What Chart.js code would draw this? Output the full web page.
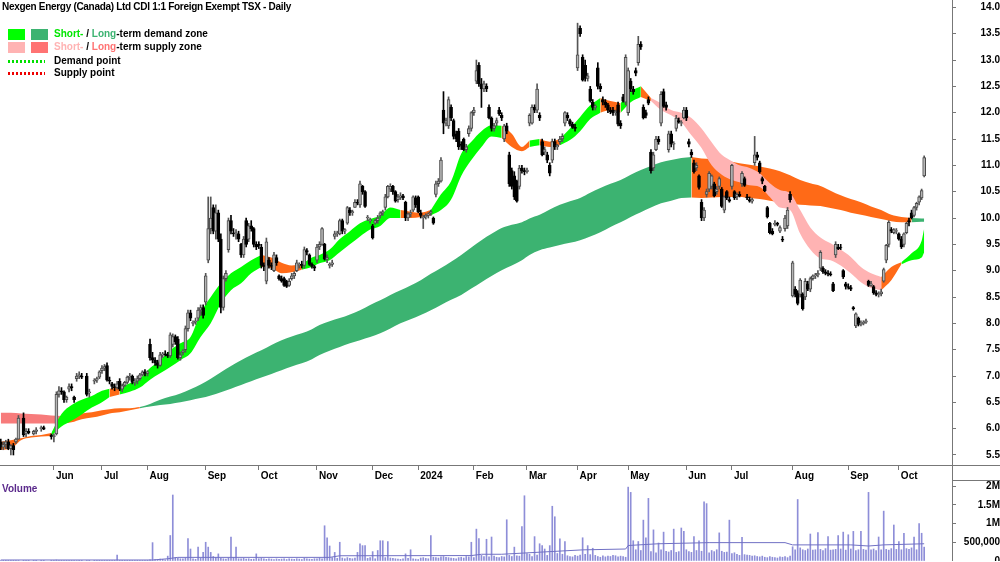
<!DOCTYPE html>
<html>
<head>
<meta charset="utf-8">
<script src="https://cdn.jsdelivr.net/npm/chart.js@4.4.1/dist/chart.umd.min.js"></script>
<style>
  body { margin: 0; background: #fff; }
  #wrap { position: relative; width: 1000px; height: 562px; overflow: hidden; font-family: Arial, "Liberation Sans", sans-serif; }
  #price { position: absolute; left: 0; top: 0; }
  #vol { position: absolute; left: 0; top: 480px; }
  .title { position: absolute; left: 2px; top: 1px; font-size: 10px; font-weight: bold; color: #000; white-space: nowrap; letter-spacing: -0.3px; }
  .row { position: absolute; left: 0; height: 12px; font-size: 10px; font-weight: bold; color: #000; white-space: nowrap; }
  .box { position: absolute; top: 0; width: 17px; height: 11px; }
  .txt { position: absolute; left: 54px; top: -1px; line-height: 12px; }
  .dots { position: absolute; left: 8px; top: 4px; width: 37px; height: 3px; }
  .vlabel { position: absolute; left: 2px; top: 483px; font-size: 10px; font-weight: bold; color: #5b2a8c; }
  .sep { position: absolute; background: #777; }
</style>
</head>
<body>
<div id="wrap">
  <canvas id="price" width="1000" height="482"></canvas>
  <canvas id="vol" width="1000" height="81"></canvas>
  <div class="title">Nexgen Energy (Canada) Ltd CDI 1:1 Foreign Exempt TSX - Daily</div>
  <div class="row" style="top:29px">
    <div class="box" style="left:8px;background:#00ff00"></div>
    <div class="box" style="left:31px;background:#3cb371"></div>
    <div class="txt"><span style="color:#00e600">Short-</span> / <span style="color:#3cb371">Long</span>-term demand zone</div>
  </div>
  <div class="row" style="top:42px">
    <div class="box" style="left:8px;background:#ffb3b3"></div>
    <div class="box" style="left:31px;background:#ff7373"></div>
    <div class="txt"><span style="color:#ffb3b3">Short-</span> / <span style="color:#ff7373">Long</span>-term supply zone</div>
  </div>
  <div class="row" style="top:56px">
    <div class="dots" style="background:repeating-linear-gradient(90deg,#00e000 0 2px,transparent 2px 4px)"></div>
    <div class="txt">Demand point</div>
  </div>
  <div class="row" style="top:68px">
    <div class="dots" style="background:repeating-linear-gradient(90deg,#ee0000 0 2px,transparent 2px 4px)"></div>
    <div class="txt">Supply point</div>
  </div>
  <div class="vlabel">Volume</div>
  <div class="sep" style="left:952px;top:465px;width:1px;height:16px"></div>
  <div class="sep" style="left:952px;top:465px;width:48px;height:1px"></div>
  <div class="sep" style="left:952px;top:480px;width:48px;height:1px"></div>
</div>
<script>
// daily candles, one slot per trading day (null = no trade that day)
var opens = [
  5.75,5.65,5.70,5.75,5.62,5.68,5.75,5.80,null,6.20,
  5.90,5.95,null,5.90,5.95,null,6.00,6.02,null,null,
  5.88,5.85,5.90,6.65,6.72,6.70,6.55,6.75,6.80,6.60,
  6.95,7.00,7.00,null,7.00,6.68,null,6.90,6.92,6.98,
  7.10,7.15,7.20,6.92,6.85,6.80,6.78,6.90,6.75,6.82,
  6.88,6.98,7.00,6.88,6.90,6.95,7.02,7.08,7.05,7.60,
  7.35,7.30,7.25,7.20,7.40,7.42,7.40,7.38,7.60,7.75,
  7.70,7.35,7.45,7.50,7.90,8.20,8.00,8.02,8.10,8.25,
  8.30,8.40,9.20,9.80,10.20,9.75,10.10,9.60,8.30,8.85,
  9.40,9.95,9.72,9.70,9.70,9.50,9.30,9.95,9.60,9.85,
  9.80,9.50,9.50,9.45,9.10,8.80,9.20,9.10,9.00,9.25,
  8.90,8.85,8.85,8.80,8.72,8.85,8.90,9.00,9.10,9.12,
  9.10,9.38,9.30,9.12,9.08,9.20,9.45,9.50,9.50,9.22,
  9.10,9.12,9.65,9.70,9.70,9.95,9.75,9.90,10.15,10.10,
  10.20,10.30,10.25,10.60,10.50,10.00,9.95,9.85,9.90,9.95,
  10.05,10.10,10.20,10.40,10.55,10.60,10.50,10.35,10.40,10.42,
  10.30,10.00,10.08,10.15,10.38,10.40,10.10,10.00,10.02,10.05,
  10.10,10.00,10.45,10.65,10.70,12.05,11.80,11.75,12.10,11.85,
  11.60,11.65,11.40,11.50,11.30,11.60,11.70,12.00,12.60,12.90,
  12.55,12.45,12.50,12.10,11.90,11.70,11.80,12.05,11.95,11.50,
  11.75,11.20,10.90,10.80,10.70,10.60,10.95,10.90,10.88,11.80,
  11.80,12.10,12.05,11.95,11.45,11.25,11.20,11.00,11.10,11.45,
  11.35,11.45,11.50,11.80,11.95,11.85,11.78,11.72,12.85,13.60,
  13.05,12.90,12.65,12.45,12.20,12.10,12.85,12.50,12.25,12.20,
  12.15,12.05,12.05,12.00,12.15,11.80,12.30,12.20,12.00,12.60,
  12.45,12.80,12.95,13.30,12.10,12.00,12.25,11.25,10.95,11.30,
  11.50,11.80,12.40,12.15,11.30,11.60,11.40,11.70,11.85,11.80,
  11.90,12.05,11.45,11.25,11.05,10.95,10.80,10.30,10.00,10.45,
  10.55,10.60,10.65,10.50,10.60,10.55,10.15,10.50,10.35,10.60,
  10.50,10.40,10.45,10.65,10.75,10.40,10.35,10.32,11.05,11.20,
  11.05,10.75,10.60,10.20,9.90,9.75,9.88,9.90,9.75,9.60,
  9.80,9.85,10.45,8.52,8.65,8.58,8.55,8.55,8.50,8.75,
  8.65,8.85,8.90,8.92,9.05,9.05,8.98,8.95,8.94,8.75,
  9.30,9.45,9.45,9.00,8.75,8.70,8.68,8.30,7.95,8.10,
  7.98,8.00,8.02,8.80,8.72,8.70,8.58,8.55,8.56,8.80,
  9.20,9.50,9.78,9.72,9.75,9.70,9.60,9.50,9.72,9.95,
  10.10,10.05,10.20,10.30,10.38,10.80
];
var highs = [
  5.80,5.75,5.78,5.80,5.70,5.72,5.82,6.25,null,6.30,
  6.00,6.00,null,5.97,6.02,null,6.05,6.05,null,null,
  5.90,5.90,6.70,6.80,6.78,6.72,6.62,6.85,6.85,6.62,
  7.05,7.08,7.05,null,7.05,6.75,null,6.95,6.98,7.10,
  7.20,7.22,7.25,6.98,6.88,6.85,6.90,6.95,6.85,6.90,
  7.00,7.05,7.02,6.95,7.00,7.05,7.10,7.12,7.10,7.70,
  7.45,7.35,7.30,7.45,7.45,7.48,7.45,7.82,7.80,7.78,
  7.75,7.45,7.50,7.95,8.25,8.25,8.05,8.10,8.30,8.35,
  8.35,8.95,10.40,10.40,10.25,10.25,10.15,9.70,8.90,9.00,
  10.00,10.05,9.80,9.78,9.75,9.52,9.65,10.00,9.90,9.95,
  9.82,9.55,9.55,9.50,9.15,9.62,9.25,9.15,9.35,9.30,
  8.92,8.90,8.88,8.82,8.85,8.95,8.98,9.20,9.15,9.18,
  9.45,9.42,9.32,9.15,9.10,9.50,9.55,9.82,9.52,9.30,
  9.15,9.20,9.75,9.75,9.98,9.98,9.80,10.22,10.20,10.15,
  10.35,10.35,10.70,10.62,10.52,10.05,10.00,9.88,9.98,10.05,
  10.12,10.15,10.45,10.62,10.65,10.62,10.52,10.45,10.48,10.45,
  10.32,10.10,10.15,10.42,10.42,10.42,10.15,10.05,10.08,10.10,
  10.15,10.02,10.70,10.75,11.15,12.40,11.90,12.30,12.15,11.88,
  11.65,11.70,11.45,11.52,11.40,11.75,12.02,12.10,13.00,12.95,
  12.65,12.60,12.55,12.15,11.92,11.80,11.90,12.10,12.00,11.78,
  11.80,11.25,10.95,10.88,10.72,11.00,11.00,10.95,10.95,11.98,
  12.15,12.15,12.55,12.00,11.50,11.35,11.25,11.05,11.50,11.50,
  11.40,11.55,11.60,12.02,12.00,11.88,11.82,11.78,13.70,13.65,
  13.10,13.00,12.75,12.50,12.25,12.15,12.95,12.55,12.30,12.25,
  12.18,12.10,12.10,12.05,12.20,11.85,12.35,13.10,12.85,12.65,
  12.50,12.85,13.45,13.35,12.15,12.05,12.30,11.30,11.25,11.55,
  11.55,12.40,12.45,12.20,11.65,11.65,11.45,11.95,11.90,11.85,
  12.10,12.10,11.50,11.30,11.10,11.05,10.82,10.35,10.20,10.55,
  10.88,10.82,10.68,10.60,10.78,10.58,10.42,10.52,10.40,11.02,
  10.52,10.48,10.50,10.88,10.78,10.45,10.40,10.38,11.55,11.25,
  11.08,10.78,10.62,10.22,9.92,9.80,9.95,9.92,9.85,9.65,
  10.05,10.20,10.50,9.18,8.70,8.62,8.85,8.58,8.85,8.80,
  8.88,8.92,8.95,9.00,9.38,9.08,9.02,9.00,8.98,8.78,
  9.55,9.50,9.50,9.02,8.78,8.75,8.72,8.32,8.20,8.12,
  8.05,8.05,8.08,8.82,8.80,8.72,8.62,8.60,8.65,9.05,
  9.50,9.95,9.82,9.80,9.80,9.72,9.65,9.72,9.92,10.00,
  10.15,10.22,10.30,10.42,10.55,11.18
];
var lows = [
  5.60,5.60,5.62,5.60,5.50,5.50,5.72,5.80,null,5.85,
  5.85,5.90,null,5.88,5.90,null,5.95,5.98,null,null,
  5.80,5.75,5.88,6.60,6.65,6.50,6.50,6.70,6.72,6.50,
  6.90,6.95,6.95,null,6.62,6.60,null,6.85,6.88,6.95,
  7.05,7.10,6.90,6.85,6.75,6.72,6.75,6.72,6.70,6.80,
  6.85,6.92,6.85,6.82,6.85,6.92,7.00,7.00,7.00,7.30,
  7.25,7.20,7.15,7.18,7.35,7.38,7.35,7.35,7.55,7.60,
  7.32,7.30,7.40,7.45,7.85,8.05,7.95,7.98,8.05,8.15,
  8.10,8.35,9.15,9.70,9.70,9.60,9.55,8.20,8.25,8.80,
  9.35,9.70,9.65,9.60,9.55,9.25,9.25,9.45,9.55,9.75,
  9.45,9.40,9.42,9.05,9.00,8.75,9.05,9.02,8.98,9.10,
  8.82,8.78,8.70,8.68,8.70,8.82,8.85,8.98,9.05,9.05,
  9.05,9.30,9.10,9.05,9.00,9.15,9.40,9.48,9.20,9.15,
  9.05,9.08,9.60,9.65,9.68,9.70,9.70,9.88,10.05,10.05,
  10.20,10.25,10.20,10.45,10.20,9.95,9.90,9.60,9.88,9.90,
  10.00,10.05,10.15,10.38,10.50,10.45,10.30,10.30,10.35,10.35,
  9.95,9.95,10.02,10.12,10.20,10.10,10.00,9.80,9.98,10.00,
  10.05,9.88,10.40,10.60,10.68,11.60,11.75,11.70,11.85,11.50,
  11.45,11.30,11.30,11.28,11.25,11.55,11.65,11.95,12.55,12.50,
  12.10,12.40,12.40,11.88,11.65,11.65,11.75,11.95,11.85,11.45,
  11.60,10.60,10.55,10.35,10.30,10.55,10.85,10.82,10.85,11.75,
  11.78,12.00,12.00,11.85,11.18,11.20,11.05,10.80,11.05,11.30,
  11.30,11.40,11.45,11.75,11.85,11.75,11.70,11.65,12.80,13.45,
  12.60,12.60,12.60,12.20,12.05,12.05,12.45,12.40,12.15,12.10,
  12.00,11.98,11.95,11.95,11.75,11.70,12.20,12.15,11.95,12.40,
  12.35,12.70,12.90,13.20,11.88,11.90,12.15,10.85,10.90,11.28,
  11.40,11.75,12.10,12.05,11.25,11.35,11.30,11.65,11.80,11.75,
  11.88,11.85,11.35,11.15,10.85,10.90,10.55,9.95,9.95,10.40,
  10.50,10.55,10.40,10.45,10.55,10.20,10.10,10.35,10.30,10.55,
  10.35,10.35,10.40,10.60,10.60,10.35,10.30,10.28,11.00,11.10,
  10.85,10.65,10.50,10.00,9.70,9.68,9.85,9.85,9.72,9.55,
  9.75,9.80,10.30,8.50,8.50,8.35,8.50,8.25,8.45,8.62,
  8.60,8.82,8.85,8.88,9.00,8.95,8.92,8.90,8.90,8.60,
  9.25,9.40,9.40,8.85,8.65,8.65,8.62,8.25,7.92,7.95,
  7.95,7.97,8.00,8.70,8.70,8.55,8.52,8.50,8.52,8.78,
  9.15,9.45,9.72,9.70,9.70,9.58,9.42,9.45,9.70,9.85,
  9.98,10.02,10.15,10.25,10.35,10.78
];
var closes = [
  5.65,5.70,5.75,5.62,5.68,5.60,5.80,6.20,null,5.88,
  5.95,5.92,null,5.95,5.98,null,6.02,5.99,null,null,
  5.85,5.87,6.65,6.72,6.70,6.55,6.60,6.80,6.78,6.55,
  7.00,7.02,6.98,null,6.65,6.70,null,6.92,6.95,7.08,
  7.15,7.18,6.92,6.90,6.80,6.78,6.85,6.75,6.82,6.88,
  6.98,7.00,6.88,6.90,6.95,7.02,7.08,7.05,7.08,7.35,
  7.30,7.25,7.20,7.40,7.42,7.40,7.38,7.78,7.75,7.65,
  7.35,7.40,7.47,7.90,8.20,8.10,8.02,8.05,8.25,8.30,
  8.15,8.90,9.80,10.00,9.75,10.10,9.60,8.30,8.85,8.95,
  9.95,9.75,9.70,9.72,9.60,9.30,9.60,9.50,9.85,9.80,
  9.50,9.45,9.48,9.10,9.08,9.55,9.10,9.08,9.30,9.15,
  8.85,8.80,8.72,8.70,8.80,8.90,8.95,9.15,9.12,9.10,
  9.40,9.35,9.12,9.08,9.05,9.45,9.50,9.80,9.22,9.25,
  9.12,9.15,9.70,9.72,9.95,9.75,9.78,10.20,10.10,10.12,
  10.30,10.28,10.65,10.50,10.22,10.02,9.97,9.62,9.95,10.00,
  10.10,10.12,10.40,10.60,10.60,10.50,10.32,10.40,10.42,10.38,
  10.00,10.08,10.10,10.40,10.25,10.12,10.05,10.02,10.05,10.08,
  10.12,9.90,10.65,10.70,11.10,11.80,11.85,12.25,11.90,11.55,
  11.50,11.35,11.38,11.30,11.35,11.70,12.00,12.05,12.80,12.55,
  12.45,12.55,12.45,11.90,11.70,11.75,11.85,11.98,11.90,11.75,
  11.65,10.65,10.60,10.40,10.32,10.95,10.90,10.88,10.91,11.95,
  12.10,12.05,12.45,11.90,11.20,11.30,11.10,10.85,11.45,11.35,
  11.38,11.50,11.55,12.00,11.90,11.78,11.72,11.70,13.10,13.50,
  12.62,12.65,12.70,12.22,12.10,12.12,12.50,12.45,12.20,12.15,
  12.05,12.02,12.00,12.02,11.78,11.75,12.22,13.05,12.80,12.45,
  12.40,12.75,13.30,13.25,11.90,11.95,12.18,10.90,11.20,11.50,
  11.45,12.35,12.12,12.10,11.60,11.40,11.42,11.90,11.82,11.81,
  12.05,11.90,11.40,11.20,10.88,11.00,10.58,10.00,10.15,10.50,
  10.85,10.80,10.42,10.55,10.75,10.22,10.40,10.38,10.32,11.00,
  10.38,10.45,10.42,10.85,10.62,10.38,10.32,10.35,11.20,11.15,
  10.88,10.70,10.52,10.02,9.72,9.70,9.90,9.88,9.82,9.58,
  10.00,10.15,10.35,9.15,8.55,8.38,8.82,8.28,8.80,8.65,
  8.85,8.90,8.92,8.95,9.35,8.98,8.95,8.94,8.92,8.62,
  9.50,9.42,9.44,8.88,8.70,8.68,8.65,8.28,8.18,7.98,
  8.00,8.02,8.05,8.72,8.75,8.58,8.55,8.56,8.60,9.02,
  9.48,9.92,9.75,9.78,9.76,9.60,9.45,9.70,9.90,9.92,
  10.00,10.20,10.28,10.40,10.52,11.15
];
// volume, thousands of shares
var volumes = [
  8,5,6,10,4,7,6,12,null,9,
  5,6,null,4,5,null,6,5,null,null,
  7,9,25,12,8,6,5,10,7,6,
  14,8,6,null,12,7,null,5,6,9,
  8,10,12,7,6,8,160,9,7,6,
  10,8,7,9,6,8,10,12,9,30,
  490,40,35,50,45,30,130,680,1760,90,
  70,60,55,80,600,320,60,45,370,80,
  230,500,370,230,120,90,190,70,60,50,
  80,640,90,370,60,55,70,50,60,45,
  50,190,60,70,55,45,60,50,40,55,
  45,50,60,40,55,50,45,60,50,40,
  70,60,50,45,60,55,80,60,940,620,
  400,90,230,70,500,80,60,90,70,60,
  80,230,460,410,410,70,90,250,60,280,
  540,540,90,520,80,70,60,50,45,60,
  190,70,300,60,50,40,80,90,70,60,
  680,100,90,80,110,120,100,90,80,70,
  60,90,100,80,120,110,500,90,850,600,
  150,120,580,110,640,130,100,90,120,110,
  1100,150,120,370,140,130,920,1740,200,180,
  120,650,160,460,410,320,150,410,1460,1180,
  200,590,180,520,140,120,110,150,130,160,
  620,180,410,170,340,150,120,100,140,110,
  130,120,150,140,110,130,120,100,1970,1830,
  540,300,520,280,1090,620,1670,250,830,220,
  480,300,770,260,240,280,850,230,250,880,
  790,300,250,230,650,280,540,260,1580,1530,
  220,280,250,300,750,260,230,240,1090,200,
  220,180,150,630,170,160,150,130,140,120,
  110,130,100,90,120,100,90,80,110,100,
  120,90,130,380,300,1640,350,300,280,320,
  720,290,300,760,310,280,330,650,290,300,
  310,680,320,770,290,700,320,790,280,300,
  790,310,290,1830,300,320,280,640,300,1330,
  310,290,330,960,310,520,300,740,330,310,
  350,640,300,1000,740,370
];
// volume moving average (thousands), read at these candle slots
var volMaIdx = [0,60,66,70,130,134,186,190,198,217,230,247,248,260,280,310,313,336,343,349,365];
var volMa    = [27,27,60,97,97,140,145,180,180,250,297,320,413,460,490,490,430,430,400,430,460];

// zone band edges, read at these candle slots
var bandIdx = [0,4,8,12,16,20,24,28,32,36,40,43,47,51,55,59,63,67,71,75,
  79,83,87,91,95,99,103,107,111,115,119,123,126,130,134,138,142,146,150,154,
  158,162,166,170,174,178,182,186,190,194,198,202,206,209,213,217,221,225,229,233,
  237,241,245,249,253,257,261,265,269,273,277,281,285,289,292,296,300,304,308,312,
  316,320,324,328,332,336,340,344,348,352,356,360,364,365];
var shortTop = [5.75,5.78,5.82,5.86,5.88,5.92,6.28,6.45,6.55,6.62,
  6.72,6.76,6.78,6.86,6.95,7.15,7.30,7.49,7.62,7.74,
  8.20,8.50,8.76,8.95,9.07,9.20,9.30,9.25,9.15,9.10,
  9.12,9.25,9.30,9.40,9.60,9.75,9.90,9.98,10.05,10.20,
  10.15,10.12,10.10,10.15,10.45,10.70,11.22,11.45,11.65,11.76,
  11.75,11.60,11.35,11.47,11.50,11.45,11.50,11.70,11.92,12.14,
  12.28,12.22,12.18,12.40,12.50,12.28,12.18,12.05,12.00,11.90,
  11.70,11.44,11.20,11.08,11.00,10.95,10.85,10.66,10.53,10.47,
  10.15,9.82,9.63,9.52,9.40,9.26,9.07,8.95,8.88,9.07,
  9.16,9.33,9.57,9.80];
var shortBot = [5.60,5.62,5.78,5.83,5.85,5.86,6.04,6.15,6.27,6.40,
  6.50,6.60,6.65,6.70,6.78,6.93,7.05,7.17,7.30,7.43,
  7.74,8.00,8.38,8.63,8.76,8.95,9.07,9.05,8.95,8.97,
  9.02,9.07,9.14,9.20,9.35,9.50,9.65,9.78,9.85,10.00,
  10.00,10.00,10.02,10.05,10.15,10.35,10.80,11.10,11.35,11.55,
  11.52,11.35,11.27,11.35,11.38,11.35,11.38,11.48,11.65,11.88,
  12.00,12.05,12.00,12.20,12.30,12.22,12.05,11.95,11.82,11.57,
  11.33,11.00,10.82,10.72,10.68,10.62,10.59,10.40,10.20,10.15,
  9.70,9.40,9.23,9.20,9.10,8.95,8.78,8.67,8.63,8.82,
  9.12,9.20,9.25,9.35];
var longTop = [6.30,6.30,6.29,6.28,6.27,6.25,6.24,6.25,6.29,6.31,
  6.35,6.37,6.39,6.39,6.41,6.47,6.55,6.61,6.67,6.75,
  6.84,6.95,7.07,7.19,7.30,7.40,7.49,7.59,7.68,7.75,
  7.81,7.89,7.97,8.04,8.10,8.17,8.25,8.35,8.44,8.54,
  8.63,8.72,8.82,8.94,9.05,9.17,9.30,9.44,9.58,9.70,
  9.81,9.87,9.92,9.99,10.06,10.16,10.25,10.32,10.38,10.48,
  10.57,10.65,10.72,10.82,10.91,10.99,11.06,11.10,11.14,11.16,
  11.13,11.12,11.10,11.07,11.04,11.01,10.98,10.94,10.89,10.81,
  10.72,10.66,10.61,10.52,10.43,10.36,10.30,10.22,10.15,10.06,
  10.02,10.00,9.99,9.99];
var longBot = [6.10,6.10,6.10,6.10,6.10,6.10,6.10,6.12,6.18,6.21,
  6.25,6.29,6.31,6.35,6.39,6.42,6.45,6.47,6.50,6.54,
  6.58,6.63,6.69,6.76,6.83,6.90,6.97,7.04,7.11,7.18,
  7.24,7.32,7.40,7.48,7.55,7.62,7.68,7.74,7.81,7.90,
  8.00,8.08,8.16,8.25,8.35,8.45,8.54,8.66,8.78,8.90,
  9.01,9.10,9.20,9.30,9.39,9.44,9.49,9.53,9.58,9.65,
  9.73,9.83,9.92,10.02,10.11,10.20,10.28,10.33,10.38,10.39,
  10.38,10.39,10.40,10.40,10.40,10.38,10.36,10.33,10.30,10.27,
  10.25,10.24,10.23,10.19,10.15,10.10,10.06,10.02,9.98,9.94,
  9.92,9.92,9.93,9.93];

// zone state per stretch: [from slot, to slot, state]
var shortZones = [[0,20,'held'],[20,43,'demand'],[43,47,'held'],[47,103,'demand'],[103,119,'held'],
  [119,158,'demand'],[158,170,'held'],[170,198,'demand'],[198,209,'held'],[209,213,'demand'],
  [213,221,'held'],[221,237,'demand'],[237,245,'held'],[245,253,'demand'],[253,257,'held'],
  [257,348,'supply'],[348,356,'held'],[356,365,'demand']];
var longZones = [[0,24,'supply'],[24,55,'held'],[55,273,'demand'],[273,360,'held'],[360,365,'demand']];

var priceTicks = [5.5,6.0,6.5,7.0,7.5,8.0,8.5,9.0,9.5,10.0,10.5,11.0,11.5,12.0,12.5,13.0,13.5,14.0];
var volTicks = [0,500,1000,1500,2000];
var volTickLabels = ['0','500,000','1M','1.5M','2M'];
var monthStart = [21,40,58,81,102,125,147,165,187,208,228,248,271,289,313,335,355];
var monthLabels = ['Jun','Jul','Aug','Sep','Oct','Nov','Dec','2024','Feb','Mar','Apr','May','Jun','Jul','Aug','Sep','Oct'];

var FONT = 'Arial, "Liberation Sans", sans-serif';
var X_MIN = -0.3, X_MAX = 376;
var shortColors = { demand: '#00ff00', supply: '#ffb3b3', held: '#ff6a17' };
var longColors = { demand: '#3cb371', supply: '#f77b7b', held: '#ff6a17' };

function bandPoints(arr, a, b) {
  var pts = [];
  for (var k = 0; k < bandIdx.length; k++) {
    if (bandIdx[k] >= a && bandIdx[k] <= b) pts.push({ x: bandIdx[k], y: arr[k] });
  }
  return pts;
}
function bandSets(top, bot, zones, colors, order) {
  var sets = [];
  zones.forEach(function (z) {
    sets.push({ type: 'line', data: bandPoints(bot, z[0], z[1]), borderColor: 'rgba(0,0,0,0)', borderWidth: 0,
      pointRadius: 0, fill: false, order: order, cubicInterpolationMode: 'monotone' });
    sets.push({ type: 'line', data: bandPoints(top, z[0], z[1]), borderColor: 'rgba(0,0,0,0)', borderWidth: 0,
      pointRadius: 0, fill: '-1', backgroundColor: colors[z[2]], order: order, cubicInterpolationMode: 'monotone' });
  });
  return sets;
}

var wickData = [], wickCol = [], bodyData = [], bodyFill = [], bodyEdge = [], volData = [];
for (var i = 0; i < closes.length; i++) {
  if (closes[i] == null) continue;
  var up = closes[i] > opens[i];
  wickData.push({ x: i, y: [lows[i], highs[i]] });
  wickCol.push(up ? '#555555' : '#000000');
  bodyData.push({ x: i, y: [opens[i], closes[i]] });
  bodyFill.push(up ? '#b5b5b5' : '#000000');
  bodyEdge.push(up ? '#4a4a4a' : '#000000');
  volData.push({ x: i, y: volumes[i] });
}

var datasets = []
  .concat(bandSets(longTop, longBot, longZones, longColors, 20))
  .concat(bandSets(shortTop, shortBot, shortZones, shortColors, 10));
datasets.push({ type: 'bar', data: wickData, backgroundColor: wickCol, barThickness: 1, grouped: false, order: 2 });
datasets.push({ type: 'bar', data: bodyData, backgroundColor: bodyFill, borderColor: bodyEdge, borderWidth: 1,
  borderSkipped: false, barThickness: 3, grouped: false, order: 1 });

var tickFont = { family: FONT, size: 10, weight: 'bold' };

new Chart(document.getElementById('price'), {
  type: 'bar',
  data: { datasets: datasets },
  options: {
    responsive: false, animation: false, devicePixelRatio: 1,
    layout: { padding: 0 },
    plugins: { legend: { display: false }, tooltip: { enabled: false } },
    scales: {
      x: {
        type: 'linear', min: X_MIN, max: X_MAX, offset: false,
        afterBuildTicks: function (s) { s.ticks = monthStart.map(function (v) { return { value: v }; }); },
        afterFit: function (s) { s.height = 17; s.paddingLeft = 0; s.paddingRight = 0; },
        ticks: { autoSkip: false, maxRotation: 0, align: 'start', labelOffset: 2, padding: 0, color: '#000', font: tickFont,
          callback: function (v, idx) { return monthLabels[idx]; } },
        grid: { drawOnChartArea: false, drawTicks: true, tickLength: 5, color: '#777', offset: false },
        border: { display: true, color: '#777' }
      },
      y: {
        type: 'linear', position: 'right', min: 5.31, max: 14.14,
        afterBuildTicks: function (s) { s.ticks = priceTicks.map(function (v) { return { value: v }; }); },
        afterFit: function (s) { s.width = 48; s.paddingTop = 0; s.paddingBottom = 0; },
        ticks: { crossAlign: 'far', padding: 23, color: '#000', font: tickFont,
          callback: function (v) { return Number(v).toFixed(1); } },
        grid: { drawOnChartArea: false, drawTicks: true, tickLength: 4, color: '#777' },
        border: { display: true, color: '#777' }
      }
    }
  }
});

new Chart(document.getElementById('vol'), {
  type: 'bar',
  data: { datasets: [
    { type: 'line', data: volMaIdx.map(function (v, k) { return { x: v, y: volMa[k] }; }), borderColor: '#7070c4',
      borderWidth: 1, pointRadius: 0, fill: false, order: 0 },
    { type: 'bar', data: volData, backgroundColor: '#8e8ed8', barThickness: 1, grouped: false, order: 1 }
  ] },
  options: {
    responsive: false, animation: false, devicePixelRatio: 1,
    layout: { padding: 0 },
    plugins: { legend: { display: false }, tooltip: { enabled: false } },
    scales: {
      x: { type: 'linear', min: X_MIN, max: X_MAX, offset: false, display: false },
      y: {
        type: 'linear', position: 'right', min: 0, max: 2160,
        afterBuildTicks: function (s) { s.ticks = volTicks.map(function (v) { return { value: v }; }); },
        afterFit: function (s) { s.width = 48; s.paddingTop = 0; s.paddingBottom = 0; },
        ticks: { crossAlign: 'far', padding: 7, color: '#000', font: tickFont,
          callback: function (v, idx) { return volTickLabels[idx]; } },
        grid: { drawOnChartArea: false, drawTicks: true, tickLength: 4, color: '#777' },
        border: { display: true, color: '#777' }
      }
    }
  }
});
</script>
</body>
</html>
